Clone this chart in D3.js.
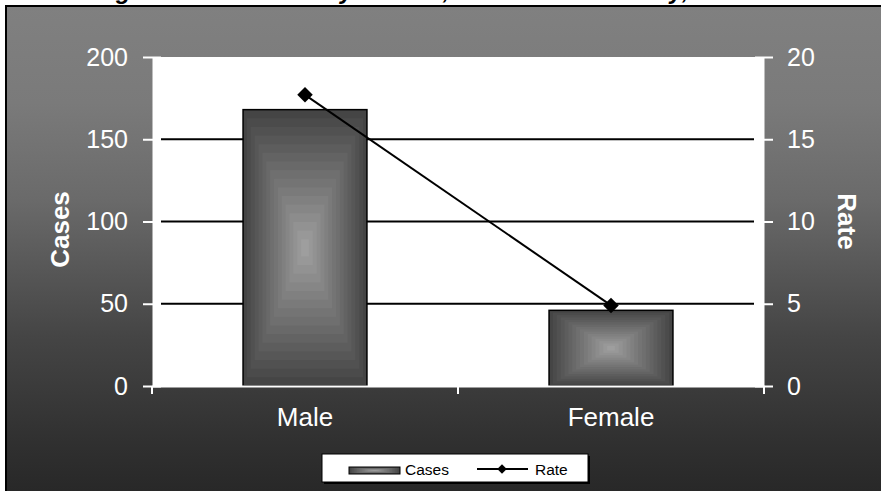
<!DOCTYPE html>
<html>
<head>
<meta charset="utf-8">
<script src="https://cdn.jsdelivr.net/npm/d3@7"></script>
<style>
  html, body { margin: 0; padding: 0; background: #ffffff; }
  svg { display: block; }
  text { font-family: "Liberation Sans", Arial, sans-serif; }
</style>
</head>
<body>
<svg id="chart" width="881" height="491"></svg>
<script>
// ---- data ----
const categories = ["Male", "Female"];
const cases = [168, 46];
const rates = [17.7, 4.9];
const casesTicks = [0, 50, 100, 150, 200];
const rateTicks = [0, 5, 10, 15, 20];
const gridValues = [50, 100, 150];
const titleText = "Legionellosis Cases by Gender, Sacramento County, 2005";
const seriesNames = ["Cases", "Rate"];
const axisTitles = ["Cases", "Rate"];

// ---- layout ----
const W = 881, H = 491;
const plot = { left: 153, right: 763, top: 57, bottom: 386 };

const svg = d3.select("#chart");
const defs = svg.append("defs");

// chart-area background gradient
const bg = defs.append("linearGradient").attr("id", "bgGrad")
  .attr("gradientUnits", "userSpaceOnUse")
  .attr("x1", 0).attr("y1", 6).attr("x2", 0).attr("y2", 491);
[[0, "#808080"], [0.2, "#7a7a7a"], [0.4, "#6a6a6a"], [0.68, "#454545"], [0.9, "#303030"], [1, "#282828"]]
  .forEach(([o, c]) => bg.append("stop").attr("offset", o).attr("stop-color", c));

// title (mostly cut off above the picture, as in the reference)
svg.append("text")
  .attr("x", 88).attr("y", -1)
  .attr("font-size", 24).attr("font-weight", "bold").attr("font-style", "italic")
  .attr("fill", "#000")
  .text(titleText);

// chart area
svg.append("rect")
  .attr("x", 6).attr("y", 6).attr("width", W + 20).attr("height", H + 20)
  .attr("fill", "url(#bgGrad)").attr("stroke", "#000").attr("stroke-width", 2);

// plot area
svg.append("rect")
  .attr("x", plot.left).attr("y", plot.top)
  .attr("width", plot.right - plot.left).attr("height", plot.bottom - plot.top)
  .attr("fill", "#ffffff");

// scales
const x = d3.scaleBand().domain(categories).range([plot.left - 1, plot.right + 1]).padding(0);
const yL = d3.scaleLinear().domain([0, 200]).range([plot.bottom, plot.top]);
const yR = d3.scaleLinear().domain([0, 20]).range([plot.bottom, plot.top]);

// gridlines
svg.append("g").selectAll("line").data(gridValues).join("line")
  .attr("x1", plot.left + 8).attr("x2", plot.right - 9)
  .attr("y1", d => yL(d)).attr("y2", d => yL(d))
  .attr("stroke", "#000").attr("stroke-width", 2);

// bars with concentric ("from centre") gradient bands
const barW = x.bandwidth() / (1 + 1.47);
const nBands = 16;
const bandColor = d3.interpolateRgb("#454545", "#9e9e9e");
function drawBandedRect(g, x0, y0, w, h) {
  for (let i = 0; i < nBands; i++) {
    const f = (i / nBands) * 0.5;
    g.append("rect")
      .attr("x", x0 + f * w).attr("y", y0 + f * h)
      .attr("width", w * (1 - 2 * f)).attr("height", h * (1 - 2 * f))
      .attr("fill", bandColor(i / (nBands - 1)));
  }
}
const barsG = svg.append("g");
categories.forEach((c, i) => {
  const bx = x(c) + (x.bandwidth() - barW) / 2;
  const by = yL(cases[i]);
  const bh = yL(0) - by;
  const g = barsG.append("g");
  drawBandedRect(g, bx, by, barW, bh);
  g.append("rect").attr("x", bx).attr("y", by).attr("width", barW).attr("height", bh)
    .attr("fill", "none").attr("stroke", "#000").attr("stroke-width", 1.5);
});

// axes (white)
const axisColor = "#ffffff";
const leftAxis = svg.append("g").attr("transform", `translate(${plot.left},0)`)
  .call(d3.axisLeft(yL).tickValues(casesTicks).tickSize(10).tickSizeOuter(0).tickPadding(15));
const rightAxis = svg.append("g").attr("transform", `translate(${plot.right},0)`)
  .call(d3.axisRight(yR).tickValues(rateTicks).tickSize(10).tickSizeOuter(0).tickPadding(14));
const bottomAxis = svg.append("g").attr("transform", `translate(0,${plot.bottom})`)
  .call(d3.axisBottom(x).tickSize(0).tickPadding(22));

[leftAxis, rightAxis, bottomAxis].forEach(a => {
  a.select(".domain").attr("stroke", axisColor).attr("stroke-width", 2);
  a.selectAll(".tick line").attr("stroke", axisColor).attr("stroke-width", 2);
  a.selectAll(".tick text").attr("fill", axisColor).attr("font-size", 25)
    .attr("font-family", "'Liberation Sans', Arial, sans-serif");
});
bottomAxis.selectAll(".tick text").attr("font-size", 26).attr("dy", "0.71em");
leftAxis.selectAll(".tick line").attr("x2", -10).attr("x1", 8);
rightAxis.selectAll(".tick line").attr("x2", 10).attr("x1", -8);

// category-boundary tick marks on x axis
const boundaries = [x.range()[0], ...categories.map(c => x(c) + x.bandwidth())];
svg.append("g").selectAll("line").data(boundaries).join("line")
  .attr("x1", d => d).attr("x2", d => d)
  .attr("y1", plot.bottom).attr("y2", plot.bottom + 8)
  .attr("stroke", axisColor).attr("stroke-width", 2);

// axis titles
svg.append("text")
  .attr("transform", `translate(69,${(plot.top + plot.bottom) / 2 + 8}) rotate(-90)`)
  .attr("text-anchor", "middle").attr("fill", "#fff")
  .attr("font-size", 26).attr("font-weight", "bold")
  .text(axisTitles[0]);
svg.append("text")
  .attr("transform", `translate(838,${(plot.top + plot.bottom) / 2}) rotate(90)`)
  .attr("text-anchor", "middle").attr("fill", "#fff")
  .attr("font-size", 26).attr("font-weight", "bold")
  .text(axisTitles[1]);

// rate line
const cx = c => x(c) + x.bandwidth() / 2;
svg.append("path")
  .datum(categories.map((c, i) => [cx(c), yR(rates[i])]))
  .attr("d", d3.line())
  .attr("fill", "none").attr("stroke", "#000").attr("stroke-width", 2);
const diamond = d3.symbol(d3.symbolSquare, 120);
svg.append("g").selectAll("path").data(categories).join("path")
  .attr("d", diamond)
  .attr("transform", (c, i) => `translate(${cx(c)},${yR(rates[i])}) rotate(45)`)
  .attr("fill", "#000");

// legend
const lg = svg.append("g");
const L = { x: 322, y: 454, w: 266, h: 28 };
lg.append("rect").attr("x", L.x + 2).attr("y", L.y + 2).attr("width", L.w).attr("height", L.h).attr("fill", "#000");
lg.append("rect").attr("x", L.x).attr("y", L.y).attr("width", L.w).attr("height", L.h)
  .attr("fill", "#fff").attr("stroke", "#000").attr("stroke-width", 1);
const sw = lg.append("g");
drawBandedRect(sw, 349, 467, 51, 7);
sw.append("rect").attr("x", 349).attr("y", 467).attr("width", 51).attr("height", 7)
  .attr("fill", "none").attr("stroke", "#000").attr("stroke-width", 1);
lg.append("text").attr("x", 405).attr("y", 474.5).attr("font-size", 15.5).attr("fill", "#000").text(seriesNames[0]);
lg.append("line").attr("x1", 477).attr("x2", 528).attr("y1", 469).attr("y2", 469)
  .attr("stroke", "#000").attr("stroke-width", 2);
lg.append("path").attr("d", d3.symbol(d3.symbolSquare, 45))
  .attr("transform", "translate(502,469) rotate(45)").attr("fill", "#000");
lg.append("text").attr("x", 535).attr("y", 474.5).attr("font-size", 15.5).attr("fill", "#000").text(seriesNames[1]);
</script>
</body>
</html>
